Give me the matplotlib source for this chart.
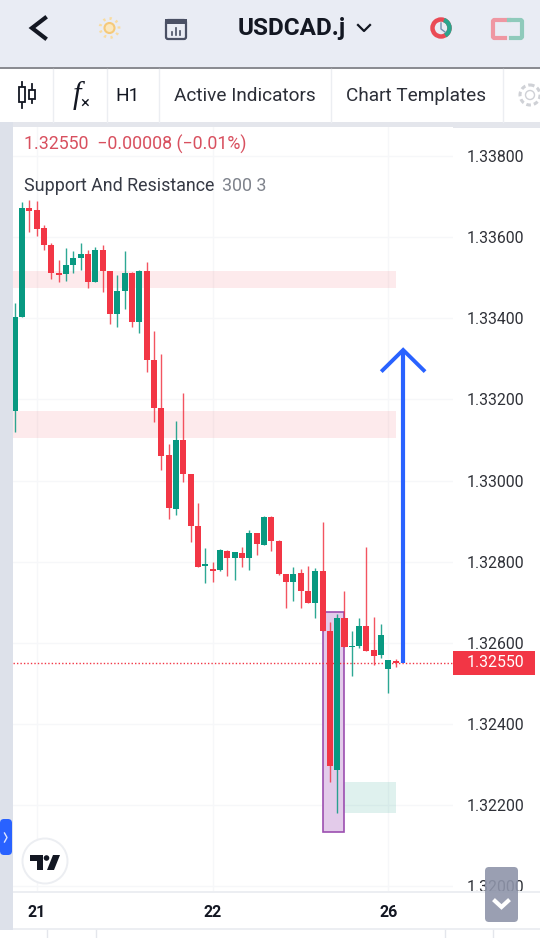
import matplotlib
matplotlib.use("Agg")
import matplotlib.pyplot as plt
from matplotlib.patches import Rectangle, FancyBboxPatch, Circle, Polygon, Arc
from matplotlib.transforms import blended_transform_factory

plt.rcParams['font.family'] = ['Roboto', 'DejaVu Sans']

# hourly candles
opens = [1.33171, 1.33404, 1.33671, 1.33667, 1.33622, 1.33582, 1.33512, 1.33509, 1.33531, 1.33550,
         1.33558, 1.33490, 1.33568, 1.33517, 1.33410, 1.33468, 1.33513, 1.33391, 1.33516, 1.33297,
         1.33179, 1.33063, 1.32930, 1.33101, 1.33015, 1.32889, 1.32789, 1.32782, 1.32779, 1.32827,
         1.32810, 1.32822, 1.32810, 1.32870, 1.32842, 1.32911, 1.32852, 1.32769, 1.32750, 1.32772,
         1.32727, 1.32698, 1.32778, 1.32629, 1.32286, 1.32662, 1.32589, 1.32593, 1.32641, 1.32581,
         1.32569, 1.32534, 1.32554]
highs = [1.33438, 1.33687, 1.33691, 1.33689, 1.33630, 1.33586, 1.33544, 1.33574, 1.33566, 1.33586,
         1.33568, 1.33575, 1.33582, 1.33518, 1.33507, 1.33566, 1.33514, 1.33519, 1.33539, 1.33368,
         1.33311, 1.33090, 1.33147, 1.33215, 1.33016, 1.32944, 1.32834, 1.32800, 1.32830, 1.32828,
         1.32824, 1.32835, 1.32878, 1.32871, 1.32913, 1.32913, 1.32853, 1.32770, 1.32787, 1.32781,
         1.32790, 1.32783, 1.32898, 1.32652, 1.32670, 1.32727, 1.32629, 1.32660, 1.32837, 1.32664,
         1.32646, 1.32558, 1.32560]
lows = [1.33120, 1.33403, 1.33613, 1.33603, 1.33568, 1.33496, 1.33490, 1.33492, 1.33511, 1.33519,
        1.33475, 1.33489, 1.33465, 1.33386, 1.33378, 1.33423, 1.33379, 1.33365, 1.33267, 1.33145,
        1.33026, 1.32904, 1.32916, 1.32997, 1.32849, 1.32786, 1.32746, 1.32750, 1.32777, 1.32764,
        1.32754, 1.32787, 1.32779, 1.32816, 1.32842, 1.32827, 1.32767, 1.32686, 1.32703, 1.32686,
        1.32697, 1.32662, 1.32629, 1.32256, 1.32179, 1.32589, 1.32518, 1.32588, 1.32579, 1.32545,
        1.32561, 1.32477, 1.32539]
closes = [1.33404, 1.33672, 1.33665, 1.33620, 1.33582, 1.33511, 1.33508, 1.33531, 1.33548, 1.33558,
          1.33490, 1.33568, 1.33517, 1.33410, 1.33468, 1.33513, 1.33390, 1.33516, 1.33297, 1.33179,
          1.33061, 1.32931, 1.33100, 1.33015, 1.32889, 1.32787, 1.32794, 1.32778, 1.32828, 1.32810,
          1.32823, 1.32808, 1.32870, 1.32843, 1.32911, 1.32852, 1.32769, 1.32750, 1.32769, 1.32727,
          1.32698, 1.32778, 1.32630, 1.32297, 1.32660, 1.32590, 1.32592, 1.32642, 1.32580, 1.32568,
          1.32618, 1.32557, 1.32549]

price_ticks = [1.338, 1.336, 1.334, 1.332, 1.330, 1.328, 1.326, 1.324, 1.322, 1.320]
day_ticks = [3, 27, 51]
day_labels = ['21', '22', '26']
last_price = 1.32550

# drawings on the chart: (x0, x1, y0, y1)
resistance_zones = [(-1, 52, 1.33475, 1.33516), (-1, 52, 1.33105, 1.33171)]
demand_zone = (44, 52, 1.32179, 1.32257)
signal_box = (42, 45, 1.32132, 1.32676)
arrow_x = 53
arrow_top = 1.33322
arrow_head_y = 1.33272
arrow_head_dx = 2.8

GREEN = '#089981'
RED = '#f23645'
BLUE = '#2962ff'

fig = plt.figure(figsize=(5.40, 9.38), dpi=100)
fig.patch.set_facecolor('white')


def px_axes(z):
    a = fig.add_axes([0, 0, 1, 1], zorder=z)
    a.set_xlim(0, 540)
    a.set_ylim(938, 0)
    a.axis('off')
    a.patch.set_alpha(0)
    return a


# --- app chrome behind the chart
bg = px_axes(1)
bg.add_patch(Rectangle((0, 0), 540, 67, fc='#e9ecf4', ec='none'))
bg.add_patch(Rectangle((0, 67), 540, 2, fc='#8b8c92', ec='none'))
bg.add_patch(Rectangle((0, 122), 540, 6, fc='#e4e6ec', ec='none'))
bg.add_patch(Rectangle((0, 122), 13, 808, fc='#dde1ea', ec='none'))
bg.add_patch(Rectangle((13, 928.5), 527, 1.5, fc='#eceef2', ec='none'))
for x in [53, 107, 159, 331, 503]:
    bg.plot([x, x], [69, 122], color='#eceef2', lw=1)
for x in [47, 96, 445, 493]:
    bg.plot([x, x], [930, 938], color='#e4e6ec', lw=1)

# --- the chart
ax = fig.add_axes([13 / 540, 1 - 892 / 938, (453 - 13) / 540, (892 - 127) / 938], zorder=2)
ax.set_xlim(-0.218, 59.8)
ax.set_ylim(1.31985, 1.33872)
ax.set_facecolor('white')
for s in ax.spines.values():
    s.set_visible(False)
ax.yaxis.tick_right()
ax.set_yticks(price_ticks)
ax.set_yticklabels(['%.5f' % p for p in price_ticks])
ax.set_xticks(day_ticks)
ax.set_xticklabels(day_labels, fontweight='bold', fontsize=11.5, color='#131722')
ax.tick_params(axis='y', length=0, pad=10, labelsize=11.4, labelcolor='#2f3138')
ax.tick_params(axis='x', length=0, pad=9)
ax.grid(True, color='#f6f7f9', lw=1)
ax.set_axisbelow(True)

for x0, x1, y0, y1 in resistance_zones:
    ax.add_patch(Rectangle((x0, y0), x1 - x0, y1 - y0, fc=RED, alpha=0.1, ec='none', zorder=1))
ax.add_patch(Rectangle((demand_zone[0], demand_zone[2]), demand_zone[1] - demand_zone[0],
                       demand_zone[3] - demand_zone[2], fc=GREEN, alpha=0.13, ec='none', zorder=1))
ax.add_patch(Rectangle((signal_box[0], signal_box[2]), signal_box[1] - signal_box[0],
                       signal_box[3] - signal_box[2], fc='#e3cbea', ec='#9c4fb0', lw=1.2, zorder=1.5))

ax.axhline(last_price, color=RED, lw=1.0, ls=(0, (1, 1.5)), zorder=2)

for i in range(len(opens)):
    c = GREEN if closes[i] >= opens[i] else RED
    ax.vlines(i, lows[i], highs[i], color=c, lw=1.0, alpha=0.85, zorder=3)
    ax.bar(i, abs(closes[i] - opens[i]), bottom=min(opens[i], closes[i]), width=0.82,
           color=c, lw=0, zorder=4)

# blue arrow
ax.plot([arrow_x, arrow_x], [last_price, arrow_top], color=BLUE, lw=3, zorder=5,
        solid_capstyle='butt')
ax.plot([arrow_x - arrow_head_dx, arrow_x, arrow_x + arrow_head_dx],
        [arrow_head_y, arrow_top, arrow_head_y], color=BLUE, lw=2.8, zorder=5,
        solid_joinstyle='miter')

# last price tag on the price scale
trans = blended_transform_factory(ax.transAxes, ax.transData)
ax.add_patch(Rectangle((1.0, last_price - 0.0003), 0.186, 0.0006, transform=trans, fc=RED,
                       ec='none', clip_on=False, zorder=6))
ax.text(1.032, last_price, '%.5f' % last_price, transform=trans, color='white', fontsize=11.4,
        va='center', ha='left', clip_on=False, zorder=7)

ax.text(0.025, 0.9775, '1.32550  \u22120.00008 (\u22120.01%)', transform=ax.transAxes,
        color='#d8505f', fontsize=12.8, va='center')
ax.text(0.025, 0.9225, 'Support And Resistance', transform=ax.transAxes,
        color='#363a45', fontsize=12.9, va='center')
ax.text(0.4745, 0.9225, '300 3', transform=ax.transAxes, color='#7f838c', fontsize=12.9, va='center')

# --- overlays in screen pixels
fg = px_axes(3)
fg.add_patch(Rectangle((13, 891.5), 527, 1.5, fc='#eceef2', ec='none'))

# header
fg.plot([45, 32, 45], [18, 28, 38], color='#131722', lw=3, solid_joinstyle='miter')
fg.add_patch(Circle((109.5, 28), 5, fc='#fbe8c0', ec='#f5c97a', lw=1.5))
fg.add_patch(Circle((109.5, 28), 9.5, fc='none', ec='#f9dca0', lw=2, ls=(0, (0.8, 1.6))))
fg.add_patch(FancyBboxPatch((166, 20), 20, 19, boxstyle='round,pad=0,rounding_size=2',
                            fc='#e9ecf4', ec='#4a5064', lw=1.6))
fg.add_patch(Rectangle((165, 19), 22, 5, fc='#4a5064', ec='none'))
for x, h in [(172, 3), (176, 7), (180, 4)]:
    fg.plot([x, x], [35, 35 - h], color='#4a5064', lw=1.2)
fg.text(237.5, 28, 'USDCAD.j', fontweight='bold', fontsize=17.5, color='#131722', va='center')
fg.plot([358, 364, 370], [25, 31, 25], color='#131722', lw=1.6)
fg.add_patch(Circle((441, 28), 8.5, fc='none', ec='#ea4a55', lw=3.2))
fg.add_patch(Arc((441, 28), 17, 17, theta1=-70, theta2=60, ec='#2aa58d', lw=3.2))
fg.plot([441, 441, 445], [23, 29, 32], color='#6f8fb0', lw=1)
fg.plot([509, 494, 493, 493, 494, 505], [20, 20, 21, 37, 38, 38], color='#ef97a2', lw=3)
fg.plot([509, 521, 522, 522, 521, 511], [20, 20, 21, 37, 38, 38], color='#8fcabb', lw=3)

# toolbar
fg.plot([22, 22], [82, 108], color='#131722', lw=1.3)
fg.add_patch(Rectangle((19, 87), 6, 15, fc='white', ec='#131722', lw=1.3, zorder=3))
fg.plot([32, 32], [84, 103], color='#131722', lw=1.3)
fg.add_patch(Rectangle((29, 90), 6, 9, fc='white', ec='#131722', lw=1.3, zorder=3))
fg.text(77, 95, 'f', family='Liberation Serif', style='italic', fontsize=22, color='#131722',
        ha='center', va='center')
fg.text(85, 103, '\u00d7', fontsize=12, color='#131722', ha='center', va='center')
fg.text(115, 96, 'H1', fontsize=13.7, color='#131722', va='center')
fg.text(173.5, 96, 'Active Indicators', fontsize=13.7, color='#2c2f38', va='center')
fg.text(346, 96, 'Chart Templates', fontsize=13.7, color='#2c2f38', va='center')
fg.add_patch(Circle((530, 95), 4.5, fc='none', ec='#cfd1d6', lw=1))
fg.add_patch(Circle((530, 95), 10, fc='none', ec='#cfd1d6', lw=2.2, ls=(0, (1.5, 1))))

# side tab, logo, scroll button
fg.add_patch(FancyBboxPatch((0, 819), 12, 36, boxstyle='round,pad=0,rounding_size=4',
                            fc=BLUE, ec='none'))
fg.plot([4.5, 7, 4.5], [833, 837.5, 842], color='#dfe7ff', lw=1)
fg.add_patch(Circle((45, 861), 22.5, fc='white', ec='#eceef2', lw=1.4))
fg.add_patch(Polygon([(30, 855), (43, 855), (43, 870), (37, 870), (37, 861), (30, 861)], fc='#131722', ec='none'))
fg.add_patch(Circle((46.5, 858), 2.8, fc='#131722', ec='none'))
fg.add_patch(Polygon([(53, 855), (60, 855), (54, 870), (47, 870)], fc='#131722', ec='none'))
fg.add_patch(FancyBboxPatch((485, 867), 33, 55, boxstyle='round,pad=0,rounding_size=4',
                            fc='#8f95aa', ec='none', alpha=0.9))
fg.plot([495, 501.5, 508], [901, 907, 901], color='white', lw=3, solid_joinstyle='miter')

fig.savefig('out.png', dpi=100)
